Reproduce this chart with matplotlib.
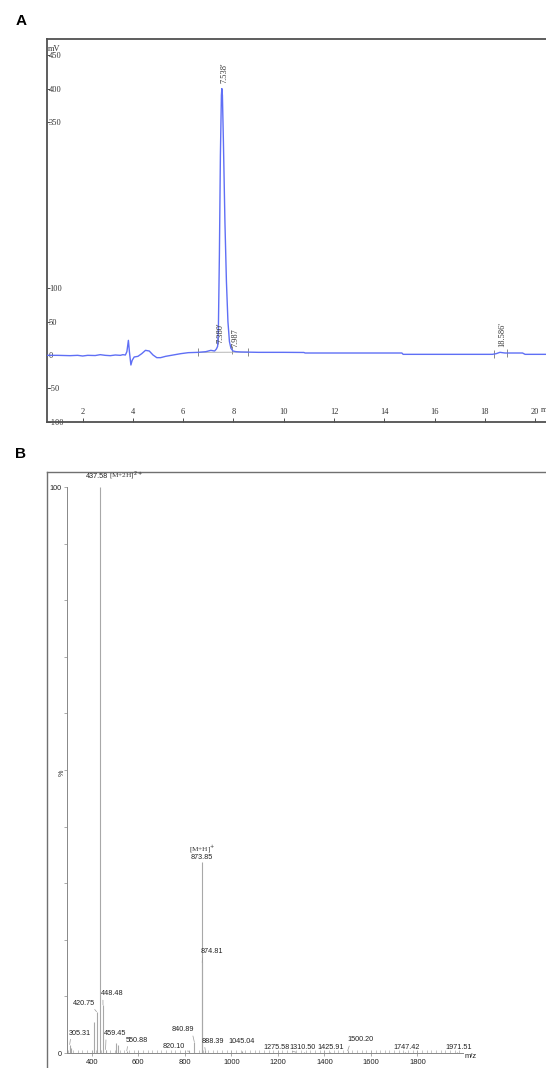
import numpy as np
import matplotlib.pyplot as plt
from matplotlib.ticker import MultipleLocator, FixedLocator

# ---- A: HPLC chromatogram (time in min, signal in mV) ----
rt_min = [0.57, 1.0, 1.5, 1.8, 2.0, 2.2, 2.5, 2.7, 2.9, 3.1, 3.3, 3.5, 3.6, 3.7,
          3.76, 3.82, 3.86, 3.92, 3.97, 4.05, 4.2, 4.35, 4.5, 4.65, 4.8, 4.95,
          5.1, 5.3, 5.6, 5.9, 6.2, 6.6, 6.9, 7.1, 7.25, 7.32, 7.37, 7.40, 7.44,
          7.48, 7.52, 7.538, 7.56, 7.60, 7.66, 7.72, 7.78, 7.84, 7.90, 7.98,
          8.1, 8.3, 9.0, 10.0, 10.8, 10.85, 12.0, 14.7, 14.75, 16.0, 18.3,
          18.45, 18.6, 18.8, 19.0, 19.5, 19.6, 21.0]
signal_mv = [-0.5, -0.5, -1, -0.5, -1.5, -0.5, -0.8, 0.5, -0.5, -1, 0, -0.5, 0.5, 0,
             5, 22, 5, -15, -8, -3, -2, 2, 7, 6, 0, -4,
             -4, -2, 0, 2, 3.5, 4, 5, 7, 6, 9, 13, 40, 150,
             300, 390, 400, 390, 320, 200, 110, 50, 20, 10, 6,
             5, 4.5, 4, 4, 3.8, 3, 3, 3, 1, 1, 1,
             2, 4, 3, 3, 3, 1, 1]
rt_labels = ["7.538'", "7.380'", "7.987", "18.586'"]
rt_label_x = [7.538, 7.380, 7.987, 18.586]
rt_label_y = [408, 18, 12, 12]
integration_marks = [6.6, 7.38, 7.96, 8.57, 18.37, 18.89]
mv_ticks = [-100, -50, 0, 50, 100, 350, 400, 450]

# ---- B: ESI mass spectrum (m/z, relative intensity %) ----
mz = [305.31, 312.0, 411.0, 420.75, 437.58, 448.48, 459.45, 505.0, 511.0,
      550.88, 820.10, 840.89, 873.85, 874.81, 888.39, 1045.04, 1275.58,
      1310.50, 1425.91, 1500.20, 1747.42, 1971.51]
rel_int = [1.5, 0.8, 5.5, 7.3, 100, 8.5, 0.6, 1.8, 1.5,
           0.4, 0.3, 2.0, 33.8, 16.0, 0.5, 0.4, 0.2,
           0.2, 0.2, 0.4, 0.2, 0.2]
mz_text = ['305.31', '', '', '420.75', '437.58', '448.48', '459.45', '', '',
           '550.88', '820.10', '840.89', '873.85', '874.81', '888.39', '1045.04',
           '1275.58', '1310.50', '1425.91', '1500.20', '1747.42', '1971.51']
# label offsets from peak top, in pixels
mz_text_dx = [10, 0, 0, -13, -3, 9, 9.5, 0, 0, 10, -16, -11, 0, 9.6, 8, 0,
              -19, -1, 0, 13, 1, 1]
mz_text_dy = [11.5, 0, 0, 8.5, 11, 11, 16, 0, 0, 10.5, 4.5, 12, 4, 11, 9, 9,
              4.5, 4.5, 4.5, 11, 4.5, 4.5]

serif = ['Liberation Serif', 'DejaVu Serif']
sans = ['Liberation Sans', 'DejaVu Sans']

fig = plt.figure(figsize=(5.46, 10.68), dpi=100)
W, H = 546.0, 1068.0

# ---------------- panel A ----------------
axA = fig.add_axes([46.7 / W, 1 - 421.6 / H, (560 - 46.7) / W, (421.6 - 39) / H])
axA.plot(rt_min, signal_mv, color='#5f6ff5', lw=1.0, zorder=3)
axA.set_xlim(0.57, 20.99)
axA.set_ylim(-100, 474.5)
for s in axA.spines.values():
    s.set_color('#505050')
    s.set_linewidth(1.3)

axA.set_yticks(mv_ticks)
axA.set_yticklabels([str(v) for v in mv_ticks])
axA.xaxis.set_major_locator(FixedLocator(np.arange(2, 21, 2)))
axA.tick_params(axis='y', direction='in', length=2, width=0.6, pad=-1.5,
                colors='#333333', labelsize=6)
axA.tick_params(axis='x', direction='in', length=3, width=0.6, pad=-10,
                colors='#333333', labelsize=6)
for lab in axA.get_yticklabels():
    lab.set_horizontalalignment('left')
    lab.set_family(serif)
for lab in axA.get_xticklabels():
    lab.set_family(serif)
axA.text(0.003, 0.985, 'mV', transform=axA.transAxes, va='top', ha='left',
         fontsize=6, family=serif, color='#333333')
axA.text(20.22, -82, 'min', fontsize=6, family=serif, color='#333333',
         ha='left', va='center', clip_on=False)

# peak labels and integration marks
for txt, x, y in zip(rt_labels, rt_label_x, rt_label_y):
    axA.annotate(txt, xy=(x, y), xytext=(2.5, 0), textcoords='offset pixels',
                 rotation=90, ha='center', va='bottom', fontsize=6,
                 family=serif, color='#333333')
base = np.interp(integration_marks, rt_min, signal_mv)
axA.vlines(integration_marks, base - 6, base + 6, color='#777777', lw=0.6)
axA.plot([6.6, 8.57], np.interp([6.6, 8.57], rt_min, signal_mv),
         color='#aaaaaa', lw=0.6, zorder=2)

fig.text(21 / W, 1 - 21 / H, 'A', fontsize=11, fontweight='bold',
         family=sans, ha='center', va='center')

# ---------------- panel B ----------------
frameB = fig.add_axes([47 / W, -0.05, 1.0, 1 - 472 / H + 0.05])
frameB.set_xticks([])
frameB.set_yticks([])
for side, s in frameB.spines.items():
    s.set_color('#707070')
    s.set_linewidth(1.0)
frameB.patch.set_alpha(0)

fig.text(21 / W, 1 - 454 / H, 'B', fontsize=11, fontweight='bold',
         family=sans, ha='center', va='center')

axB = fig.add_axes([67 / W, 1 - 1053 / H, (463 - 67) / W, (1053 - 487) / H])
axB.patch.set_alpha(0)
axB.vlines(mz, 0, rel_int, color='#a8a8a8', lw=0.8)
axB.set_xlim(293.8, 1996)
axB.set_ylim(0, 100)
axB.spines['top'].set_visible(False)
axB.spines['right'].set_visible(False)
for side in ('left', 'bottom'):
    axB.spines[side].set_color('#888888')
    axB.spines[side].set_linewidth(0.7)

axB.set_yticks(np.arange(0, 101, 10))
axB.set_yticklabels(['0'] + [''] * 9 + ['100'])
axB.xaxis.set_major_locator(FixedLocator(np.arange(400, 1801, 200)))
axB.xaxis.set_minor_locator(MultipleLocator(20))
axB.tick_params(axis='y', direction='out', length=2.5, width=0.5, pad=1.5,
                colors='#888888', labelcolor='#222222', labelsize=5.2)
axB.tick_params(axis='x', which='major', direction='inout', length=5, width=0.5,
                pad=2, colors='#888888', labelcolor='#222222', labelsize=5.5)
axB.tick_params(axis='x', which='minor', direction='in', length=2, width=0.4,
                colors='#999999')
for lab in axB.get_xticklabels() + axB.get_yticklabels():
    lab.set_family(sans)

axB.text(-0.013, 0.495, '%', transform=axB.transAxes, rotation=90,
         ha='center', va='center', fontsize=5.2, family=sans, color='#222222')
axB.text(1.005, 0.0, 'm/z', transform=axB.transAxes, ha='left', va='top',
         fontsize=5.5, family=sans, color='#222222')

for x, y, t, dx, dy in zip(mz, rel_int, mz_text, mz_text_dx, mz_text_dy):
    if not t:
        continue
    if abs(dx) > 3:
        rp = (0.1, 0.0) if dx > 0 else (0.9, 0.0)
        arrow = dict(arrowstyle='-', color='#999999', lw=0.5,
                     shrinkA=0, shrinkB=0, relpos=rp)
    else:
        arrow = None
    axB.annotate(t, xy=(x, y), xytext=(dx, dy), textcoords='offset pixels',
                 ha='center', va='center', fontsize=5.2, family=sans,
                 color='#222222', arrowprops=arrow, annotation_clip=False)

# ion assignments
axB.annotate('[M+2H]$^{2+}$', xy=(437.58, 100), xytext=(9, 11),
             textcoords='offset pixels', ha='left', va='center', fontsize=5.2,
             family=serif, color='#333333', annotation_clip=False)
axB.annotate('[M+H]$^{+}$', xy=(873.85, rel_int[12]), xytext=(0, 12),
             textcoords='offset pixels', ha='center', va='center', fontsize=5.2,
             family=serif, color='#333333', annotation_clip=False)

fig.savefig('out.png', dpi=100)
